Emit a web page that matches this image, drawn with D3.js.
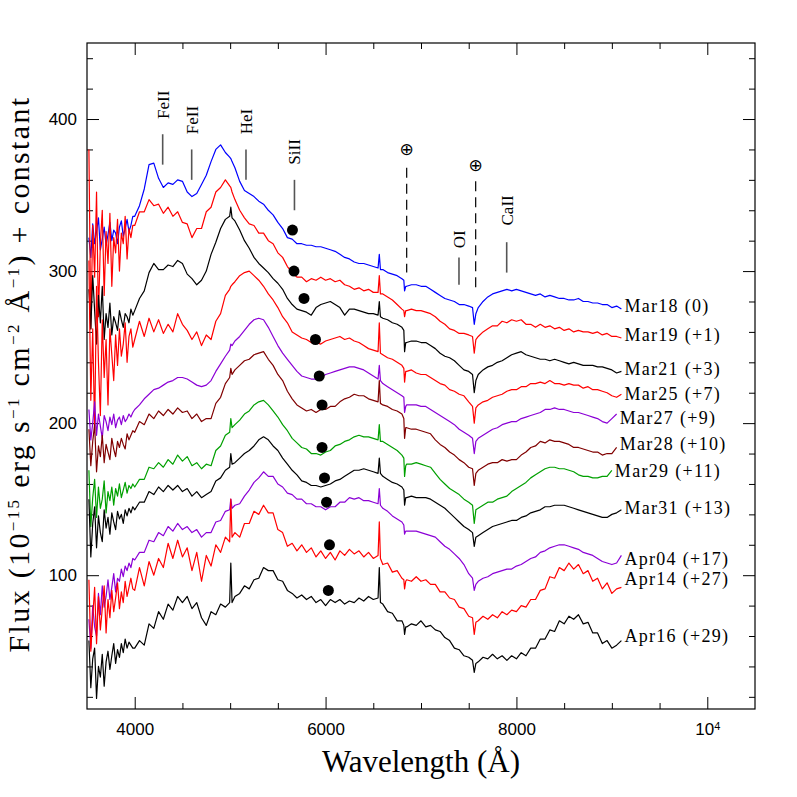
<!DOCTYPE html>
<html>
<head>
<meta charset="utf-8">
<script src="https://cdn.jsdelivr.net/npm/d3@7"></script>
<style>
  body { margin: 0; background: #fff; }
  .serif { font-family: 'Liberation Serif', 'Times New Roman', serif; }
</style>
</head>
<body>
<div class="spectra"></div>
<script>
// wavelength grid (Angstrom), shared by all spectra
var wave = [
  3520,3540,3560,3580,3600,3620,3640,3660,3680,3700,3720,3740,3760,3780,3800,3820,3840,3860,3880,3900,3920,3940,3960,3980,
  4000,4050,4100,4150,4200,4250,4300,4350,4400,4450,4500,4550,4600,4650,4700,4750,4800,4850,4900,4950,
  4995,5007,5020,
  5050,5100,5150,5200,5250,5300,5350,5400,5450,5500,
  5550,5600,5650,5700,5750,5800,5850,5900,5950,6000,
  6050,6100,6150,6200,6250,6300,6350,6400,6450,6500,6550,
  6563,6575,
  6600,6650,6700,6750,6800,
  6820,6828,6840,
  6850,6900,6950,7000,7050,7100,7150,7200,7250,7300,7350,7400,7450,7500,
  7540,7558,7575,
  7600,7650,7700,7750,7800,7850,7900,7950,8000,8050,
  8100,8150,8200,8250,8300,8350,8400,8450,8500,8550,
  8600,8650,8700,8750,8800,8850,8900,8950,9000,9050,9100
];

// flux + constant, one value per grid wavelength
var mar18 = [
  322,309,331,318,326,335,314,321,329,317,324,332,320,327,325,318,329,333,323,328,334,326,330,336,
  336,343,354,370,371,361,355,358,357,360,359,352,349,351,357,363,372,380,383,378,
  375,374,372,
  368,359,353,351,349,346,344,340,337,332,
  328,322,321,318,318,317,317,316,316,315,
  314,313,311,309,308,306,305,305,304,303,302,
  311,301,
  301,299,298,297,295,
  294,287,290,
  290,291,291,290,290,288,286,284,282,281,280,278,278,277,
  276,265,272,
  276,280,283,285,286,287,288,287,288,287,
  286,285,284,285,283,284,283,282,282,281,
  281,282,280,280,279,279,278,278,276,277,275
];
var mar19 = [
  380,262,330,296,352,270,318,340,284,326,305,338,290,322,312,334,300,325,318,336,308,328,322,330,
  330,339,339,347,343,344,338,342,336,339,332,331,322,328,328,339,342,352,355,360,
  356,355,352,
  347,340,335,331,330,325,325,320,318,312,
  309,303,299,296,296,293,295,294,296,294,
  295,293,294,291,290,288,289,287,288,286,286,
  297,285,
  285,283,281,278,275,
  274,270,274,
  274,275,274,274,273,272,270,267,265,262,261,259,259,258,
  257,246,255,
  257,260,262,264,264,267,266,268,267,268,
  265,265,263,265,263,264,262,263,261,262,
  260,261,260,260,259,260,258,259,257,257,256
];
var mar21 = [
  288,262,297,274,252,284,266,290,255,272,263,279,258,270,266,261,274,268,263,272,270,266,275,271,
  274,282,287,299,305,301,301,304,303,307,305,298,295,291,294,300,311,319,328,334,
  336,342,335,
  333,327,320,315,309,305,302,299,295,292,
  288,282,278,275,274,273,271,276,278,279,
  280,278,276,271,275,275,274,273,272,272,271,
  280,270,
  269,268,266,265,263,
  261,247,253,
  253,254,254,253,253,251,249,246,244,243,241,238,235,234,
  232,220,228,
  232,235,237,238,240,241,243,245,246,247,
  245,244,243,242,242,241,242,241,240,239,
  240,239,238,238,238,237,237,236,235,233,234
];
var mar25 = [
  307,215,262,195,290,240,205,268,230,255,212,262,245,228,258,238,262,244,252,266,240,257,262,250,
  255,267,257,269,260,268,259,265,260,272,265,261,255,260,251,258,255,267,272,284,
  288,290,291,
  293,297,299,300,297,294,290,285,281,276,
  270,266,260,258,256,255,253,253,252,254,
  255,256,257,255,256,254,253,251,249,248,247,
  266,246,
  245,243,242,240,238,
  236,227,234,
  234,235,233,232,232,230,228,226,225,222,221,219,218,214,
  211,200,210,
  212,214,215,217,218,219,221,222,222,224,
  224,226,226,227,226,228,226,226,225,226,
  225,225,223,224,222,222,221,220,218,217,219
];
var mar27 = [
  209,189,200,214,192,206,198,190,205,201,195,204,199,206,197,202,204,199,205,201,203,206,204,207,
  209,212,216,219,222,223,225,227,228,230,230,229,227,225,224,225,228,234,239,244,
  248,252,251,
  254,257,261,265,268,269,268,263,257,251,
  246,242,238,234,231,230,229,229,230,232,
  233,234,235,236,237,237,236,235,233,231,229,
  238,228,
  226,224,222,220,218,
  217,207,211,
  212,212,212,211,211,209,207,205,203,201,199,196,194,192,
  190,180,188,
  190,192,194,196,197,199,200,201,201,203,
  204,205,206,207,209,209,210,209,209,208,
  207,207,206,205,204,203,201,200,203,206,null
];
var mar28 = [
  196,172,188,199,168,185,178,192,174,186,181,176,190,183,178,188,184,190,186,183,193,189,192,195,
  194,201,199,206,203,208,205,209,206,210,207,208,203,206,201,203,203,213,217,226,
  230,236,232,
  235,238,241,242,245,246,247,242,238,232,
  228,221,216,212,210,208,209,207,209,209,
  211,211,214,216,217,219,218,218,216,215,214,
  228,213,
  212,211,209,208,206,
  203,190,197,
  197,196,196,195,194,193,189,186,184,181,179,176,174,171,
  170,159,167,
  169,171,173,174,174,176,175,176,176,179,
  181,184,185,188,187,189,188,188,187,186,
  184,184,183,182,181,181,179,180,180,184,null
];
var mar29 = [
  169,132,151,163,138,158,144,150,162,141,155,149,158,146,157,152,160,151,156,161,154,159,157,160,
  158,163,163,171,170,174,171,176,173,179,175,178,172,174,170,173,172,182,185,192,
  194,203,197,
  199,202,206,208,212,214,215,212,208,204,
  199,195,190,187,184,183,180,180,179,181,
  182,185,186,188,189,191,192,191,191,190,189,
  199,188,
  188,186,184,182,179,
  177,165,172,
  173,173,174,173,172,171,167,163,160,157,155,153,150,148,
  146,134,143,
  144,146,148,148,150,151,152,155,157,159,
  161,164,166,168,170,171,171,170,170,169,
  168,166,165,165,164,164,165,165,169,null,null
];
var mar31 = [
  150,112,134,145,118,139,128,122,143,131,138,127,141,135,130,142,137,140,134,143,139,144,141,145,
  143,148,148,155,153,158,155,159,156,159,155,157,152,155,151,153,155,162,164,169,
  171,180,173,
  174,177,180,182,185,189,191,189,185,182,
  177,173,169,166,162,161,159,159,158,159,
  160,162,163,165,167,169,169,170,169,168,167,
  177,167,
  165,163,161,160,158,
  156,146,151,
  151,152,151,151,151,150,148,146,144,141,138,135,132,130,
  128,119,125,
  126,128,130,132,133,134,135,136,136,138,
  139,141,142,143,145,145,146,146,146,145,
  144,143,142,141,140,139,138,138,140,141,143
];
var apr04 = [
  71,52,80,66,60,88,74,93,79,86,97,84,92,101,89,98,96,104,99,106,103,108,105,111,
  110,115,115,123,122,128,126,132,129,134,130,132,128,130,125,128,128,135,136,142,
  143,150,144,
  146,147,152,156,161,164,168,165,165,160,
  158,154,153,150,150,147,147,145,145,143,
  145,145,148,148,151,150,151,149,149,148,147,
  157,146,
  144,142,139,137,135,
  133,127,129,
  129,129,129,128,127,126,125,122,119,117,114,111,107,101,
  98,90,94,
  96,98,99,101,102,103,104,104,106,107,
  109,111,112,115,116,118,119,120,120,119,
  118,117,115,114,113,111,109,108,107,108,113
];
var apr14 = [
  97,50,72,92,55,86,64,78,93,62,84,72,90,76,85,95,78,89,82,96,86,92,98,91,
  90,105,93,109,100,111,105,121,111,123,112,118,103,115,96,113,106,120,115,125,
  122,150,125,
  128,125,134,134,142,140,146,141,141,130,
  128,119,121,116,120,115,118,112,116,111,
  115,110,116,113,117,114,116,112,115,111,113,
  135,111,
  107,108,102,103,98,
  97,91,96,
  97,96,99,96,97,94,94,89,89,85,84,79,78,73,
  72,61,69,
  70,73,71,74,72,76,74,77,76,80,
  79,84,84,90,91,99,98,105,103,108,
  104,107,101,103,96,98,91,95,88,91,92
];
var apr16 = [
  57,26,45,52,19,40,33,48,27,43,50,38,47,55,42,51,46,55,49,58,52,56,54,52,
  52,57,54,68,65,76,71,81,77,86,82,86,78,82,72,67,76,74,81,79,
  82,108,82,
  86,88,93,91,97,98,105,103,103,97,
  96,90,88,85,87,84,86,82,84,80,
  84,82,84,81,83,82,85,83,86,84,85,
  105,82,
  81,76,75,70,70,
  67,61,66,
  66,68,67,70,66,67,64,63,59,57,52,51,47,46,
  44,36,42,
  43,46,45,48,45,47,44,47,45,49,
  47,52,52,58,58,64,63,70,68,73,
  71,74,68,69,62,62,55,57,52,54,57
];

var seriesNames = ["Mar18 (0)", "Mar19 (+1)", "Mar21 (+3)", "Mar25 (+7)", "Mar27 (+9)", "Mar28 (+10)",
                   "Mar29 (+11)", "Mar31 (+13)", "Apr04 (+17)", "Apr14 (+27)", "Apr16 (+29)"];
var seriesFlux = [mar18, mar19, mar21, mar25, mar27, mar28, mar29, mar31, apr04, apr14, apr16];

// Si II absorption markers
var siWave = [5653, 5669, 5774, 5894, 5934, 5963, 5963, 5989, 6010, 6041, 6029];
var siFlux = [327, 300, 282, 255, 231, 212, 184, 164, 148, 120, 90];

// line identifications
var lineIdNames = ["FeII", "FeII", "HeI", "SiII", "OI", "CaII"];
var lineIdWave = [4293, 4597, 5166, 5674, 7398, 7898];
var telluricWave = [6850, 7573];

// tick values
var xMajor = [4000, 6000, 8000, 10000];
var xMinor = [4500, 5000, 5500, 6500, 7000, 7500, 8500, 9000, 9500];
var yMajor = [100, 200, 300, 400];
var yMinor = [20, 40, 60, 80, 120, 140, 160, 180, 220, 240, 260, 280, 320, 340, 360, 380, 420, 440];

// ---- layout / style ----
var seriesColors = ["#0000ff", "#ff0000", "#000000", "#ff0000", "#8b00d6", "#800000",
                    "#00a000", "#000000", "#8b00d6", "#ff0000", "#000000"];
var labelDy = [-3, -3, -3, -1, 4, -4, 0, -2, 3, -9, -5];
// tick mark extents and text bottoms for the identifications (flux units)
var lineIdTop = [390, 380, 380, 360, 309, 319];
var lineIdBottom = [370, 360, 360, 340, 291, 299];
var lineIdText = [400, 390, 390, 370, 315, 330];
var telluricTop = [368, 359];
var telluricBottom = [299, 289];
var telluricSym = [380, 370];

seriesFlux.forEach(function (f, i) {
    if (f.length !== wave.length) console.error("length mismatch", seriesNames[i], f.length, wave.length);
});

var margin = { top: 43, right: 42, bottom: 88, left: 87 },
    width = 797 - margin.left - margin.right,
    height = 797 - margin.top - margin.bottom;

var x = d3.scaleLinear().domain([3500, 10500]).range([0, width]);
var y = d3.scaleLinear().domain([12, 450]).range([height, 0]);

var svg = d3.select(".spectra").append("svg")
    .attr("width", 797)
    .attr("height", 797);

var plot = svg.append("g")
    .attr("transform", "translate(" + margin.left + "," + margin.top + ")");

plot.append("clipPath").attr("id", "clip")
    .append("rect").attr("width", width).attr("height", height);

function styleAxis(g) {
    g.select(".domain").remove();
    g.selectAll(".tick line").attr("stroke", "#000").attr("stroke-width", 1);
    g.selectAll(".tick text")
        .attr("fill", "#000")
        .style("font-family", "'Liberation Sans', Arial, sans-serif")
        .style("font-size", "17px");
}

// bottom axis with labels
var xAxisG = plot.append("g")
    .attr("transform", "translate(0," + height + ")")
    .call(d3.axisBottom(x).tickValues(xMajor).tickSize(-12).tickPadding(14)
        .tickFormat(function (d) { return d === 10000 ? "" : d; }))
    .call(styleAxis);

xAxisG.selectAll(".tick text").filter(function (d) { return d === 10000; })
    .each(function () {
        var t = d3.select(this);
        t.append("tspan").text("10");
        t.append("tspan").attr("dy", "-0.45em").style("font-size", "11px").text("4");
    });

plot.append("g").attr("transform", "translate(0," + height + ")")
    .call(d3.axisBottom(x).tickValues(xMinor).tickSize(-6).tickFormat(""))
    .call(styleAxis);

// top axis ticks
plot.append("g")
    .call(d3.axisTop(x).tickValues(xMajor).tickSize(-12).tickFormat(""))
    .call(styleAxis);
plot.append("g")
    .call(d3.axisTop(x).tickValues(xMinor).tickSize(-6).tickFormat(""))
    .call(styleAxis);

// left axis with labels
plot.append("g")
    .call(d3.axisLeft(y).tickValues(yMajor).tickSize(-12).tickPadding(10))
    .call(styleAxis);
plot.append("g")
    .call(d3.axisLeft(y).tickValues(yMinor).tickSize(-6).tickFormat(""))
    .call(styleAxis);

// right axis ticks
plot.append("g").attr("transform", "translate(" + width + ",0)")
    .call(d3.axisRight(y).tickValues(yMajor).tickSize(-12).tickFormat(""))
    .call(styleAxis);
plot.append("g").attr("transform", "translate(" + width + ",0)")
    .call(d3.axisRight(y).tickValues(yMinor).tickSize(-6).tickFormat(""))
    .call(styleAxis);

// frame
plot.append("rect")
    .attr("width", width)
    .attr("height", height)
    .attr("fill", "none")
    .attr("stroke", "#000")
    .attr("stroke-width", 1.2);

// spectra
var line = d3.line()
    .defined(function (d) { return d[1] != null; })
    .x(function (d) { return x(d[0]); })
    .y(function (d) { return y(d[1]); });

var spectra = seriesFlux.map(function (f, i) {
    return {
        name: seriesNames[i],
        values: wave.map(function (w, j) { return [w, f[j]]; })
    };
});

plot.append("g").attr("clip-path", "url(#clip)")
    .selectAll(".spectrum")
    .data(spectra)
    .enter().append("path")
    .attr("class", "spectrum")
    .attr("d", function (d) { return line(d.values); })
    .attr("fill", "none")
    .attr("stroke", function (d, i) { return seriesColors[i]; })
    .attr("stroke-width", 1.2)
    .attr("stroke-linejoin", "round");

// epoch labels at the red end of each spectrum
function lastPoint(d) {
    return d.values.filter(function (v) { return v[1] != null; }).pop();
}

plot.selectAll(".epoch")
    .data(spectra)
    .enter().append("text")
    .attr("class", "epoch serif")
    .attr("x", function (d) { return x(lastPoint(d)[0]) + 3; })
    .attr("y", function (d, i) { return y(lastPoint(d)[1]) + labelDy[i]; })
    .attr("dy", "0.35em")
    .attr("letter-spacing", "1.3px")
    .style("font-size", "18px")
    .text(function (d) { return d.name; });

// Si II dots
plot.selectAll(".si")
    .data(siWave)
    .enter().append("circle")
    .attr("cx", function (d) { return x(d); })
    .attr("cy", function (d, i) { return y(siFlux[i]); })
    .attr("r", 5.5)
    .attr("fill", "#000");

// line identifications
lineIdWave.forEach(function (w, i) {
    plot.append("line")
        .attr("x1", x(w)).attr("x2", x(w))
        .attr("y1", y(lineIdTop[i])).attr("y2", y(lineIdBottom[i]))
        .attr("stroke", "#555").attr("stroke-width", 1.6);
    plot.append("text")
        .attr("class", "serif")
        .attr("transform", "translate(" + x(w) + "," + y(lineIdText[i]) + ") rotate(-90)")
        .attr("dy", "0.35em")
        .style("font-size", "17px")
        .text(lineIdNames[i]);
});

telluricWave.forEach(function (w, i) {
    plot.append("line")
        .attr("x1", x(w)).attr("x2", x(w))
        .attr("y1", y(telluricTop[i])).attr("y2", y(telluricBottom[i]))
        .attr("stroke", "#000").attr("stroke-width", 1.2)
        .attr("stroke-dasharray", "10,6");
    plot.append("text")
        .attr("x", x(w)).attr("y", y(telluricSym[i]))
        .attr("dy", "0.35em")
        .attr("text-anchor", "middle")
        .style("font-family", "'DejaVu Sans', sans-serif")
        .style("font-size", "17px")
        .text("\u2295");
});

// axis titles
svg.append("text")
    .attr("class", "serif")
    .attr("x", margin.left + width / 2)
    .attr("y", 772)
    .attr("text-anchor", "middle")
    .style("font-size", "31px")
    .text("Wavelength (\u00c5)");

var yTitle = svg.append("text")
    .attr("class", "serif")
    .attr("transform", "translate(29," + (margin.top + height / 2 - 2) + ") rotate(-90)")
    .attr("text-anchor", "middle")
    .style("font-size", "30px");

var parts = [["Flux (10", 0], ["\u221215", 1], [" erg s", 0], ["\u22121", 1], [" cm", 0],
             ["\u22122", 1], [" \u00c5", 0], ["\u22121", 1], [") + constant", 0]];
parts.forEach(function (p, i) {
    var prevSup = i > 0 && parts[i - 1][1];
    var ts = yTitle.append("tspan").text(p[0]);
    if (p[1]) ts.attr("dy", -10).style("font-size", "17px");
    else if (prevSup) ts.attr("dy", 10);
});

var natural = yTitle.node().getComputedTextLength();
var nChars = parts.map(function (p) { return p[0]; }).join("").length;
yTitle.attr("letter-spacing", ((557 - natural) / nChars) + "px");
</script>
</body>
</html>
